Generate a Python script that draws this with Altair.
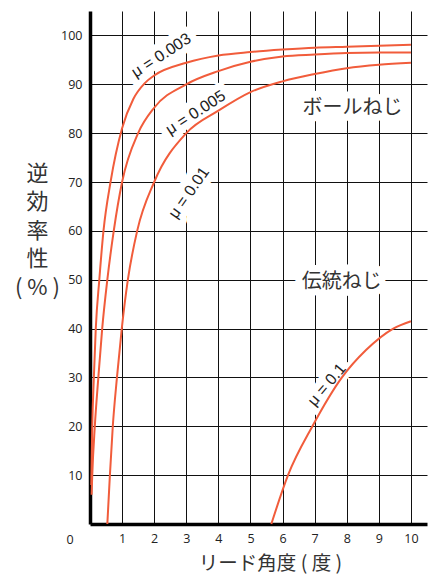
import altair as alt
import pandas as pd

# ---- data ----
x_003 = [0.04, 0.07, 0.12, 0.18, 0.29, 0.42, 0.64, 1.0, 1.35, 1.7, 2.0, 3.0, 4.0, 5.0, 6.0, 7.0, 8.0, 9.0, 10.0]
y_003 = [8, 20, 30, 40, 50, 60, 70, 81, 87, 90.2, 91.8, 94.4, 95.9, 96.6, 97.1, 97.5, 97.7, 97.9, 98.1]

x_005 = [0.05, 0.07, 0.15, 0.26, 0.38, 0.54, 0.74, 1.0, 1.5, 2.0, 3.0, 4.0, 5.0, 6.0, 7.0, 8.0, 9.0, 10.0]
y_005 = [6, 10, 20, 30, 40, 50, 60, 70, 80, 85.2, 90, 92.7, 94.6, 95.7, 96.1, 96.4, 96.5, 96.5]

x_01 = [0.54, 0.62, 0.71, 0.84, 0.99, 1.18, 1.47, 2.0, 3.0, 4.0, 5.0, 6.0, 7.0, 8.0, 9.0, 10.0]
y_01 = [0, 10, 20, 30, 40, 50, 60, 70, 80, 84.6, 88.4, 90.6, 92.1, 93.3, 94.0, 94.4]

x_1 = [5.65, 6.17, 6.93, 7.85, 8.6, 9.45, 10.0]
y_1 = [0, 10, 20, 30, 35.6, 40, 41.5]

x_ticks = [1, 2, 3, 4, 5, 6, 7, 8, 9, 10]
y_ticks = [10, 20, 30, 40, 50, 60, 70, 80, 90, 100]

curves = [("0.003", x_003, y_003), ("0.005", x_005, y_005),
          ("0.01", x_01, y_01), ("0.1", x_1, y_1)]
rows = []
for name, xs, ys in curves:
    for a, b in zip(xs, ys):
        rows.append({"curve": name, "lead": a, "eff": b})
df = pd.DataFrame(rows)

# annotations: text, x, y, angle, font, size, colour
labels = [
    ("μ = 0.003", 2.22, 95.9, 327, "Liberation Sans", 16, "#222"),
    ("μ = 0.005", 3.29, 84.2, 327, "Liberation Sans", 16, "#222"),
    ("μ = 0.01", 3.08, 67.8, 305, "Liberation Sans", 16, "#222"),
    ("μ = 0.1", 7.38, 28.5, 310, "Liberation Sans", 16, "#222"),
    ("ボールねじ", 8.18, 85.2, 0, "Noto Sans CJK JP", 20, "#333"),
    ("伝統ねじ", 7.84, 49.6, 0, "Noto Sans CJK JP", 20, "#333"),
]

W, H = 337, 513
xs_scale = alt.Scale(domain=[0, 10.5], nice=False, zero=False)
ys_scale = alt.Scale(domain=[0, 105], nice=False)

x_axis = alt.Axis(
    values=x_ticks, ticks=False, tickSize=0, labelPadding=8.5,
    labelFont="Open Sans", labelFontSize=12.5, labelColor="#222",
    domainColor="#000", domainWidth=3.5,
    grid=True, gridColor="#111", gridWidth=1,
    title="リード角度 ( 度 )", titleFont="Noto Sans CJK JP", titleFontSize=19.5,
    titleFontWeight="normal", titleColor="#333",
    titleX=180, titleY=39.5, titleAlign="center", titleBaseline="middle",
    titleAnchor="start",
)
y_axis = alt.Axis(
    values=y_ticks, ticks=False, tickSize=0, labelPadding=8,
    labelFont="Open Sans", labelFontSize=12.5, labelColor="#222",
    domainColor="#000", domainWidth=3.5,
    grid=True, gridColor="#111", gridWidth=1,
    title=["逆", "効", "率", "性", "( % )"], titleAngle=0,
    titleFont="Noto Sans CJK JP", titleFontSize=22, titleFontWeight="normal",
    titleColor="#333", titleLineHeight=28.5,
    titleX=-53, titleY=152, titleAlign="center", titleBaseline="top",
    titleAnchor="start",
)

X = alt.X("lead:Q", scale=xs_scale, axis=x_axis)
Y = alt.Y("eff:Q", scale=ys_scale, axis=y_axis)

layers_halo = []
layers_text = []
for txt, lx, ly, ang, font, size, col in labels:
    d = pd.DataFrame({"lead": [lx], "eff": [ly], "t": [txt]})
    base = alt.Chart(d)
    layers_halo.append(base.mark_text(
        angle=ang, font=font, fontSize=size, align="center", baseline="middle",
        fill="white", stroke="white", strokeWidth=14, strokeJoin="round",
    ).encode(x=X, y=Y, text="t:N"))
    layers_text.append(base.mark_text(
        angle=ang, font=font, fontSize=size, align="center", baseline="middle",
        color=col,
    ).encode(x=X, y=Y, text="t:N"))

lines = alt.Chart(df).mark_line(
    interpolate="monotone", color="#f15c3b", strokeWidth=2
).encode(x=X, y=Y, detail="curve:N")

zero_df = pd.DataFrame({"lead": [0], "eff": [0], "t": ["0"]})
zero = alt.Chart(zero_df).mark_text(
    font="Open Sans", fontSize=12.5, color="#222", dx=-20, dy=15.5,
    align="center", baseline="middle",
).encode(x=X, y=Y, text="t:N")

chart = alt.layer(*layers_halo, lines, *layers_text, zero).properties(
    width=W, height=H,
    padding={"left": 82, "top": 3, "right": 1, "bottom": 50},
    autosize=alt.AutoSizeParams(type="none"),
).configure_view(stroke=None)

chart.save("out.html", embed_options={"renderer": "svg", "actions": False})
